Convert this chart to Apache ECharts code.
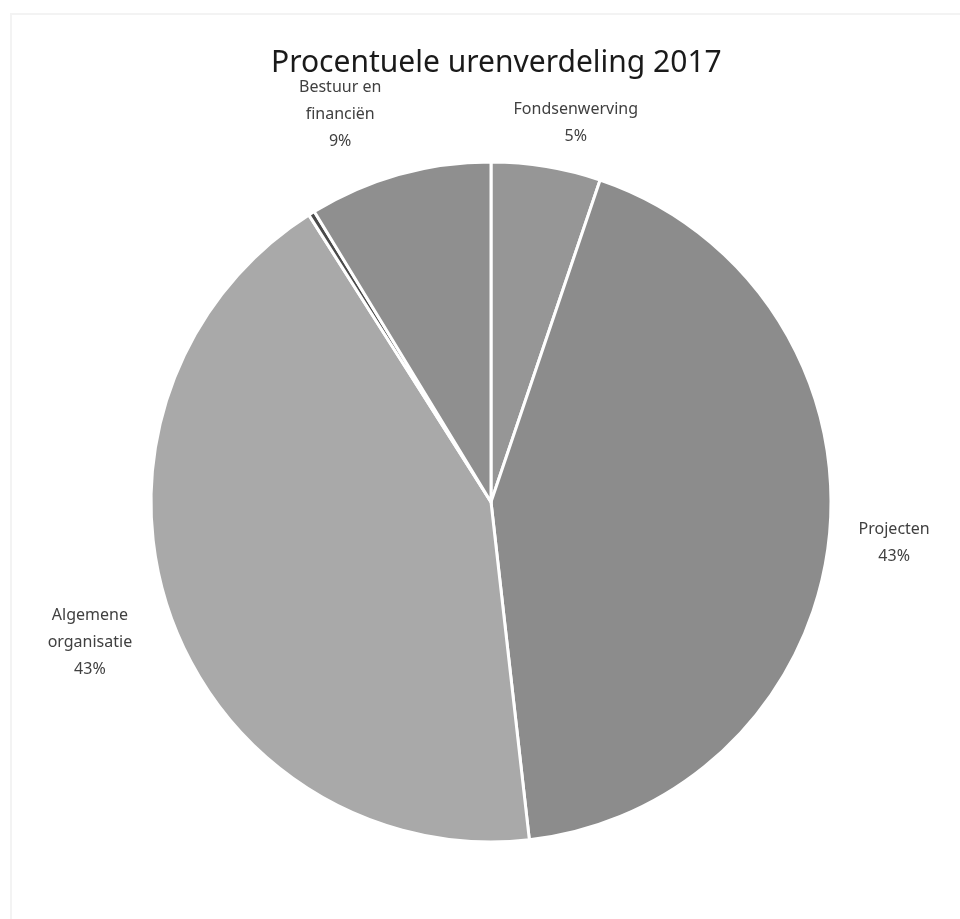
<!DOCTYPE html>
<html>
<head>
<meta charset="utf-8">
<script src="https://cdn.jsdelivr.net/npm/echarts@6/dist/echarts.min.js"></script>
<style>
html,body{margin:0;padding:0;background:#fff;}
#frame{position:absolute;left:10px;top:13px;width:960px;height:919px;border-left:2px solid #f3f3f3;border-top:2px solid #f3f3f3;}
#chart{position:absolute;left:0;top:0;width:960px;height:919px;}
</style>
</head>
<body>
<div id="frame"></div>
<div id="chart"></div>
<script>
const titleText = 'Procentuele urenverdeling 2017';
const categories = ['Fondsenwerving', 'Projecten', 'Algemene organisatie', '', 'Bestuur en financiën'];
const labelTexts = ['Fondsenwerving', 'Projecten', 'Algemene\norganisatie', '', 'Bestuur en\nfinanciën'];
const values = [5.2, 43.0, 42.8, 0.3, 8.7];
const colors = ['#969696', '#8c8c8c', '#a9a9a9', '#4a4a4a', '#8f8f8f'];

// label nudges (style only)
const labelNudge = [[18, 26], [-5, -3], [-14, 4], [0, 0], [-40, 8]];

const chart = echarts.init(document.getElementById('chart'));
const sliceData = categories.map((c, i) => ({
  name: c || ' ',
  value: values[i],
  itemStyle: { color: colors[i] }
}));
const labelData = categories.map((c, i) => ({
  name: c || ' ',
  value: values[i],
  label: { show: c !== '', offset: labelNudge[i] }
}));
const total = values.reduce((a, b) => a + b, 0);

chart.setOption({
  animation: false,
  title: {
    text: titleText,
    left: 266,
    top: 43,
    textStyle: { fontFamily: 'Noto Sans', fontSize: 30, fontWeight: 'normal', color: '#1a1a1a' }
  },
  series: [
    {
      type: 'pie',
      center: [491, 502],
      radius: 340,
      startAngle: 90,
      clockwise: true,
      silent: true,
      data: sliceData,
      itemStyle: { borderColor: '#ffffff', borderWidth: 3 },
      label: { show: false },
      labelLine: { show: false }
    },
    {
      type: 'pie',
      center: [491, 502],
      radius: [340, 475],
      startAngle: 90,
      clockwise: true,
      silent: true,
      data: labelData,
      itemStyle: { color: 'rgba(0,0,0,0)' },
      label: {
        position: 'inside',
        fontFamily: 'Noto Sans',
        fontSize: 16,
        lineHeight: 27,
        color: '#404040',
        align: 'center',
        formatter: p => labelTexts[p.dataIndex] + '\n' + Math.round(values[p.dataIndex] / total * 100) + '%'
      },
      labelLine: { show: false }
    }
  ]
});
</script>
</body>
</html>
